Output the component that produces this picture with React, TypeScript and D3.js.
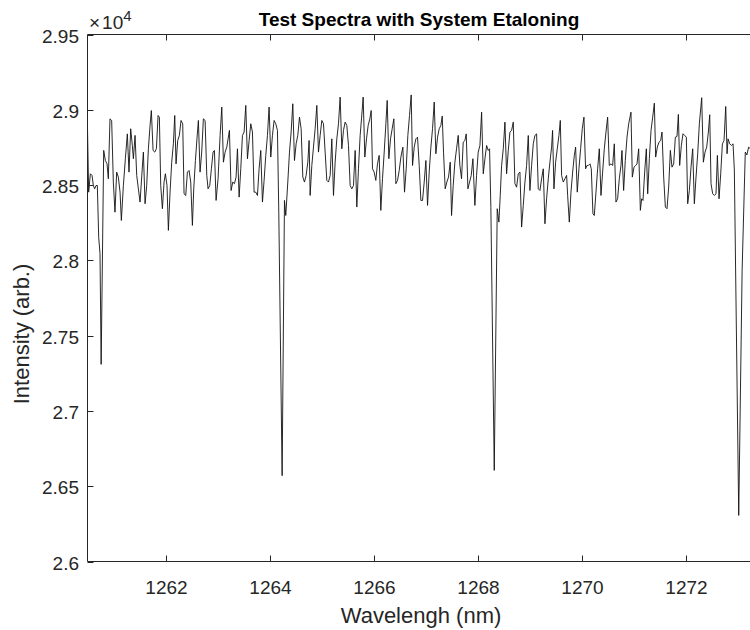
import React from "react";
import * as d3 from "d3";

const wavelength = [
  1260.500, 1260.522, 1260.555, 1260.587, 1260.612, 1260.638, 1260.663, 1260.689, 1260.715, 1260.740,
  1260.762, 1260.811, 1260.843, 1260.875, 1260.900, 1260.932, 1260.964, 1260.996, 1261.028, 1261.060,
  1261.092, 1261.125, 1261.150, 1261.189, 1261.227, 1261.265, 1261.297, 1261.329, 1261.361, 1261.381,
  1261.413, 1261.445, 1261.477, 1261.509, 1261.547, 1261.573, 1261.605, 1261.637, 1261.669, 1261.701,
  1261.726, 1261.759, 1261.791, 1261.823, 1261.855, 1261.880, 1261.906, 1261.938, 1261.970, 1261.995,
  1262.027, 1262.053, 1262.085, 1262.117, 1262.149, 1262.175, 1262.200, 1262.232, 1262.264, 1262.296,
  1262.328, 1262.354, 1262.386, 1262.418, 1262.450, 1262.482, 1262.514, 1262.540, 1262.572, 1262.604,
  1262.629, 1262.661, 1262.693, 1262.725, 1262.758, 1262.790, 1262.815, 1262.847, 1262.879, 1262.911,
  1262.937, 1262.969, 1263.007, 1263.046, 1263.078, 1263.110, 1263.142, 1263.174, 1263.225, 1263.257,
  1263.289, 1263.321, 1263.353, 1263.379, 1263.411, 1263.443, 1263.475, 1263.507, 1263.539, 1263.571,
  1263.603, 1263.635, 1263.667, 1263.699, 1263.731, 1263.763, 1263.795, 1263.827, 1263.859, 1263.891,
  1263.923, 1263.955, 1263.987, 1264.019, 1264.051, 1264.083, 1264.115, 1264.147, 1264.173, 1264.237,
  1264.282, 1264.307, 1264.346, 1264.378, 1264.410, 1264.442, 1264.474, 1264.506, 1264.538, 1264.570,
  1264.602, 1264.634, 1264.666, 1264.698, 1264.730, 1264.755, 1264.775, 1264.807, 1264.839, 1264.871,
  1264.903, 1264.935, 1264.967, 1264.999, 1265.031, 1265.063, 1265.095, 1265.127, 1265.159, 1265.191,
  1265.223, 1265.255, 1265.287, 1265.319, 1265.351, 1265.383, 1265.415, 1265.447, 1265.479, 1265.511,
  1265.543, 1265.575, 1265.607, 1265.639, 1265.671, 1265.703, 1265.735, 1265.761, 1265.793, 1265.825,
  1265.857, 1265.889, 1265.921, 1265.947, 1265.972, 1266.004, 1266.036, 1266.068, 1266.100, 1266.132,
  1266.164, 1266.197, 1266.229, 1266.254, 1266.286, 1266.318, 1266.350, 1266.382, 1266.421, 1266.453,
  1266.485, 1266.517, 1266.555, 1266.587, 1266.619, 1266.651, 1266.683, 1266.715, 1266.741, 1266.773,
  1266.805, 1266.837, 1266.869, 1266.901, 1266.933, 1266.965, 1266.997, 1267.029, 1267.061, 1267.093,
  1267.125, 1267.157, 1267.189, 1267.221, 1267.253, 1267.285, 1267.311, 1267.336, 1267.368, 1267.400,
  1267.432, 1267.465, 1267.490, 1267.522, 1267.554, 1267.586, 1267.618, 1267.650, 1267.682, 1267.714,
  1267.746, 1267.772, 1267.804, 1267.836, 1267.868, 1267.900, 1267.938, 1267.970, 1268.002, 1268.035,
  1268.067, 1268.099, 1268.131, 1268.163, 1268.195, 1268.220, 1268.245, 1268.310, 1268.367, 1268.399,
  1268.425, 1268.451, 1268.483, 1268.515, 1268.547, 1268.579, 1268.611, 1268.643, 1268.675, 1268.707,
  1268.739, 1268.771, 1268.803, 1268.835, 1268.867, 1268.899, 1268.931, 1268.963, 1268.995, 1269.027,
  1269.059, 1269.091, 1269.123, 1269.155, 1269.187, 1269.219, 1269.251, 1269.283, 1269.315, 1269.347,
  1269.379, 1269.411, 1269.430, 1269.456, 1269.488, 1269.520, 1269.552, 1269.578, 1269.603, 1269.635,
  1269.667, 1269.699, 1269.719, 1269.751, 1269.783, 1269.815, 1269.847, 1269.872, 1269.904, 1269.936,
  1269.968, 1270.000, 1270.032, 1270.064, 1270.090, 1270.116, 1270.148, 1270.173, 1270.205, 1270.231,
  1270.263, 1270.295, 1270.327, 1270.359, 1270.391, 1270.423, 1270.455, 1270.487, 1270.519, 1270.551,
  1270.583, 1270.615, 1270.647, 1270.679, 1270.711, 1270.743, 1270.762, 1270.794, 1270.826, 1270.859,
  1270.891, 1270.935, 1270.961, 1270.993, 1271.025, 1271.051, 1271.083, 1271.115, 1271.140, 1271.166,
  1271.198, 1271.230, 1271.256, 1271.288, 1271.320, 1271.352, 1271.384, 1271.409, 1271.441, 1271.473,
  1271.505, 1271.531, 1271.563, 1271.595, 1271.627, 1271.659, 1271.691, 1271.723, 1271.755, 1271.787,
  1271.819, 1271.845, 1271.870, 1271.902, 1271.934, 1271.966, 1271.998, 1272.024, 1272.056, 1272.088,
  1272.120, 1272.152, 1272.184, 1272.216, 1272.248, 1272.293, 1272.325, 1272.357, 1272.389, 1272.421,
  1272.447, 1272.472, 1272.504, 1272.536, 1272.568, 1272.594, 1272.626, 1272.658, 1272.690, 1272.722,
  1272.754, 1272.780, 1272.799, 1272.831, 1272.863, 1272.895, 1272.920, 1273.004, 1273.069, 1273.130,
  1273.160, 1273.194, 1273.230,
];

const intensity = [
  28874, 28453, 28575, 28564, 28497, 28475, 28497, 28497, 28154, 28044,
  27309, 28730, 28663, 28641, 28542, 28940, 28929, 28520, 28320, 28586,
  28553, 28453, 28265, 28497, 28675, 28840, 28586, 28874, 28763, 28675,
  28830, 28564, 28475, 28387, 28586, 28719, 28376, 28497, 28741, 28896,
  28995, 28730, 28719, 28741, 28962, 28951, 28497, 28343, 28520, 28575,
  28497, 28199, 28453, 28652, 28774, 28962, 28641, 28796, 28830, 28929,
  28907, 28442, 28431, 28586, 28597, 28520, 28232, 28475, 28663, 28818,
  28929, 28586, 28719, 28940, 28929, 28564, 28475, 28497, 28608, 28719,
  28730, 28398, 28542, 28830, 29018, 28652, 28719, 28752, 28863, 28464,
  28520, 28509, 28553, 28741, 28420, 28608, 28830, 28852, 29029, 28675,
  28796, 28907, 28852, 28453, 28453, 28431, 28608, 28730, 28387, 28531,
  28697, 28830, 29018, 28686, 28830, 28929, 28907, 28863, 28320, 26570,
  28398, 28298, 28520, 28719, 28852, 29040, 28663, 28774, 28830, 28951,
  28874, 28553, 28520, 28564, 28652, 28796, 28431, 28630, 28752, 28874,
  29029, 28719, 28830, 28929, 28907, 28719, 28531, 28520, 28564, 28807,
  28431, 28652, 28807, 28907, 29084, 28741, 28863, 28918, 28896, 28763,
  28497, 28475, 28497, 28730, 28354, 28608, 28830, 28940, 29084, 28686,
  28807, 28896, 28940, 28995, 28608, 28586, 28531, 28641, 28697, 28332,
  28542, 28719, 28907, 29062, 28675, 28807, 28874, 28940, 28509, 28531,
  28597, 28686, 28752, 28453, 28608, 28830, 28962, 29099, 28630, 28752,
  28807, 28818, 28630, 28398, 28398, 28520, 28663, 28365, 28586, 28752,
  28874, 29051, 28708, 28818, 28874, 28896, 28958, 28719, 28475, 28520,
  28553, 28652, 28298, 28497, 28652, 28741, 28830, 28630, 28542, 28785,
  28796, 28840, 28475, 28520, 28564, 28675, 28365, 28564, 28719, 28763,
  28984, 28575, 28675, 28763, 28730, 28741, 28350, 26605, 28343, 28254,
  28430, 28630, 28741, 28918, 28575, 28730, 28852, 28863, 28918, 28509,
  28486, 28575, 28586, 28221, 28365, 28520, 28630, 28829, 28464, 28630,
  28774, 28830, 28840, 28475, 28464, 28542, 28608, 28243, 28409, 28542,
  28652, 28752, 28863, 28475, 28652, 28741, 28830, 28929, 28564, 28520,
  28542, 28564, 28431, 28254, 28453, 28586, 28697, 28752, 28453, 28608,
  28741, 28874, 28951, 28608, 28630, 28630, 28641, 28608, 28309, 28298,
  28453, 28608, 28741, 28431, 28586, 28741, 28852, 28951, 28630, 28641,
  28630, 28774, 28387, 28409, 28542, 28630, 28730, 28464, 28664, 28818,
  28907, 28984, 28553, 28619, 28630, 28641, 28741, 28332, 28409, 28398,
  28586, 28741, 28442, 28675, 28863, 28951, 29044, 28686, 28752, 28785,
  28796, 28852, 28553, 28354, 28343, 28487, 28730, 28619, 28641, 28818,
  28823, 28969, 28630, 28763, 28841, 28830, 28818, 28376, 28464, 28619,
  28741, 28376, 28553, 28708, 28907, 29080, 28652, 28719, 28752, 28852,
  28967, 28509, 28442, 28431, 28442, 28697, 28409, 28575, 28774, 28796,
  29022, 28708, 28807, 28774, 28763, 28774, 28600, 26306, 27933, 28719,
  28700, 28752, 28740,
];

const xTicks = [1262, 1264, 1266, 1268, 1270, 1272];
const yTicks = [26000, 26500, 27000, 27500, 28000, 28500, 29000, 29500];
const yTickLabels = ["2.6", "2.65", "2.7", "2.75", "2.8", "2.85", "2.9", "2.95"];

const title = "Test Spectra with System Etaloning";
const xLabel = "Wavelengh (nm)";
const yLabel = "Intensity (arb.)";

const W = 750;
const H = 630;
const FONT = "'Liberation Sans', Arial, Helvetica, sans-serif";
const AX = "#262626";

export default function App() {
  const left = 87.5;
  const right = 750.5;
  const top = 34.5;
  const bottom = 561.5;

  const x = d3.scaleLinear().domain([1260.5, 1273.23]).range([left, right]);
  const y = d3.scaleLinear().domain([26000, 29500]).range([bottom, top]);

  const pts = wavelength.map((w, i) => [w, intensity[i]] as [number, number]);
  const line = d3
    .line<[number, number]>()
    .x((d) => x(d[0]))
    .y((d) => y(d[1]));

  const tickLen = 6;
  const cx = 419;

  return (
    <svg
      width={W}
      height={H}
      style={{ position: "fixed", left: 0, top: 0, background: "#fff" }}
      fontFamily={FONT}
    >
      <defs>
        <clipPath id="plotclip">
          <rect x={left} y={top} width={right - left + 10} height={bottom - top} />
        </clipPath>
      </defs>
      <rect x={0} y={0} width={W} height={H} fill="#fff" />

      <path
        d={line(pts) || ""}
        fill="none"
        stroke="#111"
        strokeWidth={0.9}
        strokeLinejoin="round"
        clipPath="url(#plotclip)"
      />

      {/* axes lines (right border lies outside the picture) */}
      <line x1={left} x2={W} y1={bottom} y2={bottom} stroke={AX} strokeWidth={1} />
      <line x1={left} x2={W} y1={top} y2={top} stroke={AX} strokeWidth={1} />
      <line x1={left} x2={left} y1={top} y2={bottom} stroke={AX} strokeWidth={1} />

      {xTicks.map((t) => {
        const px = Math.round(x(t)) + 0.5;
        return (
          <g key={"x" + t}>
            <line x1={px} x2={px} y1={bottom} y2={bottom - tickLen} stroke={AX} strokeWidth={1} />
            <line x1={px} x2={px} y1={top} y2={top + tickLen} stroke={AX} strokeWidth={1} />
            <text x={px} y={594} textAnchor="middle" fontSize={19} fill={AX}>
              {t}
            </text>
          </g>
        );
      })}

      {yTicks.map((t, i) => {
        const py = Math.round(y(t)) + 0.5;
        return (
          <g key={"y" + t}>
            <line x1={left} x2={left + tickLen} y1={py} y2={py} stroke={AX} strokeWidth={1} />
            <text x={79} y={py + 7} textAnchor="end" fontSize={19} fill={AX}>
              {yTickLabels[i]}
            </text>
          </g>
        );
      })}

      <text x={89} y={29} fontSize={19} fill={AX}>
        <tspan>×</tspan>
        <tspan dx={2}>10</tspan>
        <tspan dy={-8} fontSize={15}>4</tspan>
      </text>

      <text x={cx} y={26} textAnchor="middle" fontSize={19} fontWeight="bold" fill="#000">
        {title}
      </text>

      <text x={cx + 2} y={623} textAnchor="middle" fontSize={22} fill={AX}>
        {xLabel}
      </text>

      <text
        transform={`translate(29, ${(top + bottom) / 2 + 36}) rotate(-90)`}
        textAnchor="middle"
        fontSize={22}
        fill={AX}
      >
        {yLabel}
      </text>
    </svg>
  );
}
